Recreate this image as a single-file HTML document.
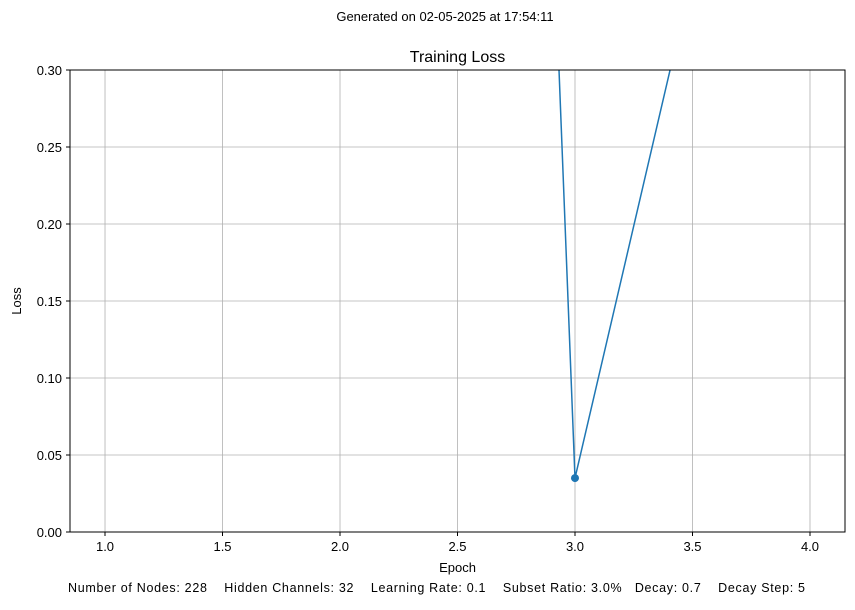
<!DOCTYPE html>
<html><head><meta charset="utf-8"><style>
body{margin:0;background:#fff;}
svg text{font-family:"Liberation Sans","DejaVu Sans",sans-serif;fill:#000;}
</style></head><body>
<svg width="855" height="605" xmlns="http://www.w3.org/2000/svg">
<defs><clipPath id="clip"><rect x="70" y="70" width="775" height="462"/></clipPath></defs>
<text x="445" y="21" font-size="13" text-anchor="middle">Generated on 02-05-2025 at 17:54:11</text>
<text x="457.5" y="62" font-size="16" text-anchor="middle">Training Loss</text>
<g id="grid"></g>
<g id="axes"></g>
<g id="series" clip-path="url(#clip)"></g>
<rect x="70" y="70" width="775" height="462" fill="none" stroke="#000" stroke-width="1"/>
<text x="457.5" y="572" font-size="13" text-anchor="middle">Epoch</text>
<text x="21" y="301" font-size="13" text-anchor="middle" transform="rotate(-90 21 301)">Loss</text>
<text x="68" y="592" font-size="12.5" textLength="737" lengthAdjust="spacing" xml:space="preserve">Number of Nodes: 228    Hidden Channels: 32    Learning Rate: 0.1    Subset Ratio: 3.0%   Decay: 0.7    Decay Step: 5</text>
</svg>
<script>
const epochs=[1,2,3,4];
const losses=[5.0,3.93,0.035,0.69];
const xTicks=[1.0,1.5,2.0,2.5,3.0,3.5,4.0];
const yTicks=[0.00,0.05,0.10,0.15,0.20,0.25,0.30];
const NS='http://www.w3.org/2000/svg';
const L=70,R=845,T=70,B=532,xMin=0.851,xMax=4.149,yMin=0,yMax=0.3;
const sx=v=>L+(v-xMin)/(xMax-xMin)*(R-L);
const sy=v=>B-(v-yMin)/(yMax-yMin)*(B-T);
function mk(tag,attrs,parent){const e=document.createElementNS(NS,tag);for(const k in attrs)e.setAttribute(k,attrs[k]);parent.appendChild(e);return e;}
const grid=document.getElementById('grid'),axes=document.getElementById('axes'),series=document.getElementById('series');
xTicks.forEach(t=>{const x=sx(t);
 const g=mk('line',{x1:x,x2:x,y1:T,y2:B,stroke:'#b0b0b0','stroke-width':0.8},grid);
 
 
 mk('line',{x1:x,x2:x,y1:B,y2:B+4,stroke:'#000'},axes);
 const tx=mk('text',{x:x,y:B+19,'font-size':13,'text-anchor':'middle'},axes);tx.textContent=t.toFixed(1);
 
 });
yTicks.forEach(t=>{const y=sy(t);
 const g=mk('line',{x1:L,x2:R,y1:y,y2:y,stroke:'#b0b0b0','stroke-width':0.8},grid);
 
 
 mk('line',{x1:L-4,x2:L,y1:y,y2:y,stroke:'#000'},axes);
 const tx=mk('text',{x:L-8,y:y+5,'font-size':13,'text-anchor':'end'},axes);tx.textContent=t.toFixed(2);
 
 });
const pts=epochs.map((e,i)=>sx(e)+','+sy(losses[i])).join(' ');
const pl=mk('polyline',{points:pts,fill:'none',stroke:'#1f77b4','stroke-width':1.5},series);


epochs.forEach((e,i)=>{const c=mk('circle',{cx:sx(e),cy:sy(losses[i]),r:4,fill:'#1f77b4'},series);
 
 });
</script>
</body></html>
